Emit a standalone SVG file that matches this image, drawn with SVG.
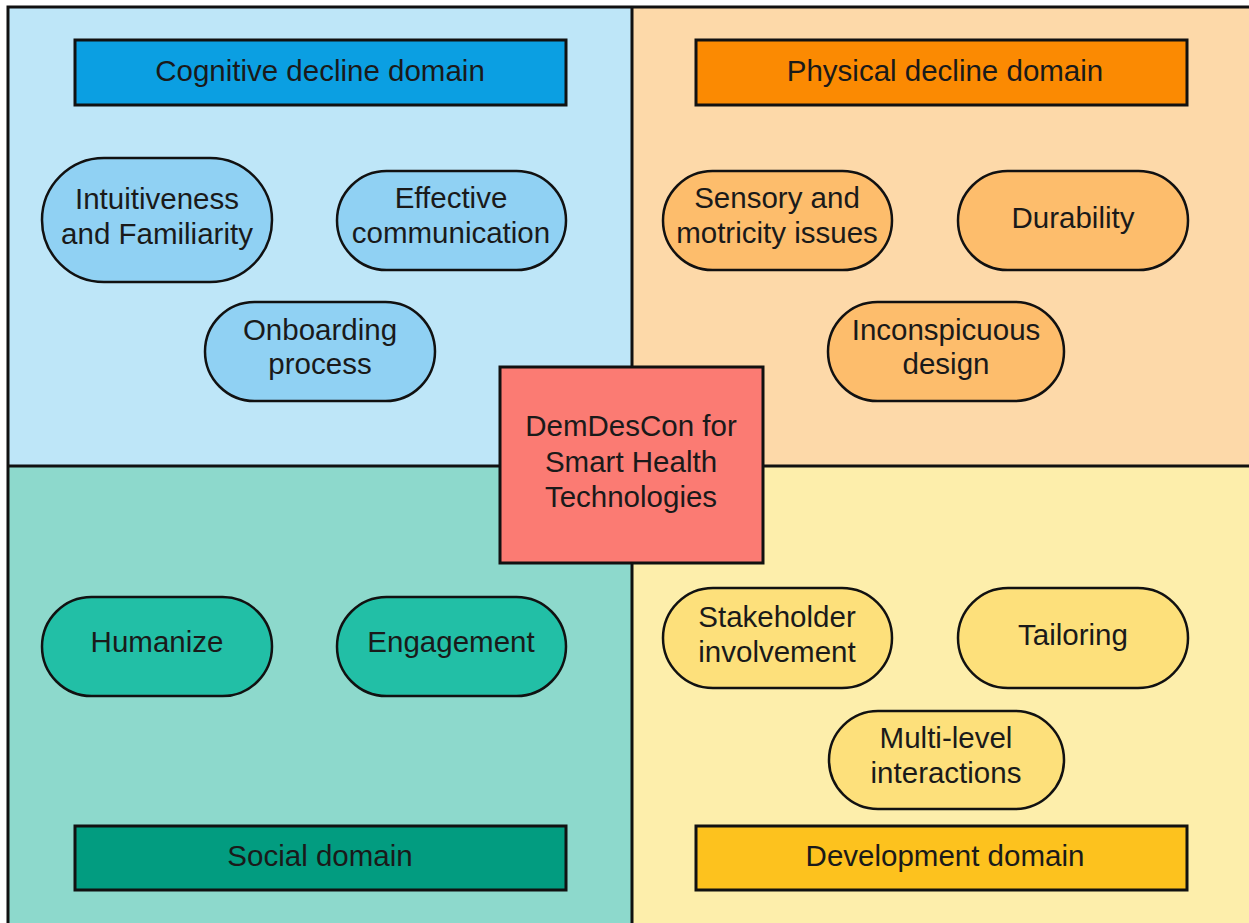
<svg xmlns="http://www.w3.org/2000/svg" width="1249" height="923" viewBox="0 0 1249 923">
<style>
text{font-family:"Liberation Sans",Arial,sans-serif;font-size:29.5px;fill:#1a1a1a;text-anchor:middle}
.ln{stroke:#111;stroke-width:3;fill:none}
.hd{stroke:#111;stroke-width:3}
.pl{stroke:#111;stroke-width:2.5}
</style>
<rect x="0" y="0" width="1249" height="923" fill="#ffffff"/>
<g id="quadrants">
<rect x="8" y="7" width="624" height="459" fill="#bee6f8"/>
<rect x="632" y="7" width="620" height="459" fill="#fdd9a9"/>
<rect x="8" y="466" width="624" height="460" fill="#8dd9cc"/>
<rect x="632" y="466" width="620" height="460" fill="#fdeeab"/>
</g>
<g id="connectors">
<rect class="ln" x="8" y="7" width="1250" height="930"/>
<line class="ln" x1="632" y1="7" x2="632" y2="930"/>
<line class="ln" x1="8" y1="466" x2="1258" y2="466"/>
</g>
<g id="cognitive-header"><rect class="hd" x="75" y="40" width="491" height="65" fill="#0b9fe2"/><text x="320" y="81">Cognitive decline domain</text></g>
<g id="physical-header"><rect class="hd" x="696" y="40" width="491" height="65" fill="#fb8a02"/><text x="945" y="81">Physical decline domain</text></g>
<g id="social-header"><rect class="hd" x="75" y="826" width="491" height="64" fill="#029c80"/><text x="320" y="866">Social domain</text></g>
<g id="development-header"><rect class="hd" x="696" y="826" width="491" height="64" fill="#fdc21e"/><text x="945" y="866">Development domain</text></g>
<g id="intuitiveness"><rect class="pl" x="42" y="158" width="230" height="124" rx="62" fill="#90d1f3"/><text x="157" y="209">Intuitiveness</text><text x="157" y="244">and Familiarity</text></g>
<g id="effective"><rect class="pl" x="337" y="171" width="229" height="99" rx="49.5" fill="#90d1f3"/><text x="451" y="208">Effective</text><text x="451" y="243">communication</text></g>
<g id="onboarding"><rect class="pl" x="205" y="302" width="230" height="99" rx="49.5" fill="#90d1f3"/><text x="320" y="340">Onboarding</text><text x="320" y="374">process</text></g>
<g id="sensory"><rect class="pl" x="663" y="171" width="229" height="99" rx="49.5" fill="#fdbd6c"/><text x="777" y="208">Sensory and</text><text x="777" y="243">motricity issues</text></g>
<g id="durability"><rect class="pl" x="958" y="171" width="230" height="99" rx="49.5" fill="#fdbd6c"/><text x="1073" y="228">Durability</text></g>
<g id="inconspicuous"><rect class="pl" x="828" y="302" width="236" height="99" rx="49.5" fill="#fdbd6c"/><text x="946" y="340">Inconspicuous</text><text x="946" y="374">design</text></g>
<g id="humanize"><rect class="pl" x="42" y="597" width="230" height="99" rx="49.5" fill="#22bfa6"/><text x="157" y="652">Humanize</text></g>
<g id="engagement"><rect class="pl" x="337" y="597" width="229" height="99" rx="49.5" fill="#22bfa6"/><text x="451" y="652">Engagement</text></g>
<g id="stakeholder"><rect class="pl" x="663" y="588" width="229" height="100" rx="50" fill="#fde07b"/><text x="777" y="627">Stakeholder</text><text x="777" y="662">involvement</text></g>
<g id="tailoring"><rect class="pl" x="958" y="588" width="230" height="100" rx="50" fill="#fde07b"/><text x="1073" y="645">Tailoring</text></g>
<g id="multilevel"><rect class="pl" x="829" y="711" width="235" height="98" rx="49" fill="#fde07b"/><text x="946" y="748">Multi-level</text><text x="946" y="783">interactions</text></g>
<g id="center"><rect class="hd" x="500" y="367" width="263" height="196" fill="#fb7b73"/><text x="631" y="436">DemDesCon for</text><text x="631" y="472">Smart Health</text><text x="631" y="507">Technologies</text></g>
</svg>
